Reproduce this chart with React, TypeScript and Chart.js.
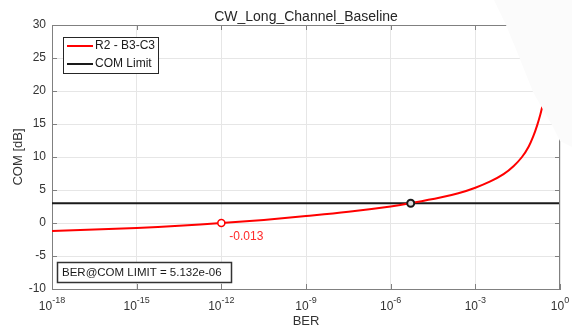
import { useEffect, useRef } from 'react';
import { Chart, registerables } from 'chart.js';

Chart.register(...registerables);

// ---- data ----
const berValues = [
  1e-18, 3.2e-17, 1e-15, 3.2e-14, 1e-12, 3.2e-11, 1e-9, 3.2e-8, 1e-6, 5.132e-6,
  5.75e-5, 2.5e-4, 1e-3, 3.4e-3, 1e-2, 2.3e-2, 4.5e-2, 7.8e-2, 0.117, 0.155,
  0.2, 0.234, 0.282,
];
const comValues = [
  -1.2, -0.98, -0.75, -0.42, -0.013, 0.47, 1.05, 1.7, 2.5, 3.0,
  3.85, 4.5, 5.35, 6.3, 7.4, 8.65, 10.0, 11.6, 13.3, 14.8,
  16.4, 17.6, 19.2,
];
const comLimitValue = 3;
const limitBer = 5.132e-6;
const markerBer = 1e-12;
const markerCom = -0.013;
const xRange = [1e-18, 1];
const xTickExponents = [-18, -15, -12, -9, -6, -3, 0];
const yTickValues = [-10, -5, 0, 5, 10, 15, 20, 25, 30];

const titleText = 'CW_Long_Channel_Baseline';
const xAxisTitle = 'BER';
const yAxisTitle = 'COM [dB]';
const seriesName = 'R2 - B3-C3';
const limitName = 'COM Limit';
const annotationText = 'BER@COM LIMIT = 5.132e-06';
const markerLabel = '-0.013';

const FONT = '"Liberation Sans", Arial, Helvetica, sans-serif';
const AXIS_COLOR = '#808080';
const TEXT_COLOR = '#333333';

const decorPlugin = {
  id: 'decor',
  afterDraw(chart: any) {
    const ctx: CanvasRenderingContext2D = chart.ctx;
    const { left, right, top, bottom } = chart.chartArea;
    const xs = chart.scales.x;
    const ys = chart.scales.y;
    ctx.save();

    // top/right border
    ctx.strokeStyle = AXIS_COLOR;
    ctx.lineWidth = 1;
    ctx.beginPath();
    ctx.moveTo(left, top + 0.5);
    ctx.lineTo(right, top + 0.5);
    ctx.moveTo(right - 0.5, top);
    ctx.lineTo(right - 0.5, bottom);
    ctx.stroke();

    // inward tick marks
    const tl = 5;
    ctx.beginPath();
    for (const e of xTickExponents) {
      const px = Math.round(xs.getPixelForValue(Math.pow(10, e))) + 0.5;
      ctx.moveTo(px, bottom);
      ctx.lineTo(px, bottom - tl);
      ctx.moveTo(px, top);
      ctx.lineTo(px, top + tl);
    }
    for (const v of yTickValues) {
      const py = Math.round(ys.getPixelForValue(v)) + 0.5;
      ctx.moveTo(left, py);
      ctx.lineTo(left + tl, py);
      ctx.moveTo(right, py);
      ctx.lineTo(right - tl, py);
    }
    ctx.stroke();

    // x tick labels with superscript exponents
    ctx.fillStyle = TEXT_COLOR;
    ctx.textBaseline = 'middle';
    ctx.textAlign = 'left';
    for (const e of xTickExponents) {
      const px = xs.getPixelForValue(Math.pow(10, e));
      const base = '10';
      const sup = String(e);
      ctx.font = `12px ${FONT}`;
      const wb = ctx.measureText(base).width;
      ctx.font = `9px ${FONT}`;
      const ws = ctx.measureText(sup).width;
      const x0 = px - (wb + ws) / 2;
      ctx.font = `12px ${FONT}`;
      ctx.fillText(base, x0, bottom + 18);
      ctx.font = `9px ${FONT}`;
      ctx.fillText(sup, x0 + wb, bottom + 12);
    }

    // title
    ctx.fillStyle = '#262626';
    ctx.textAlign = 'center';
    ctx.font = `14px ${FONT}`;
    ctx.fillText(titleText, (left + right) / 2, 17);

    // axis titles
    ctx.fillStyle = TEXT_COLOR;
    ctx.font = `13px ${FONT}`;
    ctx.fillText(xAxisTitle, (left + right) / 2, 321);
    ctx.save();
    ctx.translate(18, (top + bottom) / 2);
    ctx.rotate(-Math.PI / 2);
    ctx.fillText(yAxisTitle, 0, 0);
    ctx.restore();

    // legend
    ctx.fillStyle = '#ffffff';
    ctx.fillRect(63, 37, 96, 37);
    ctx.strokeStyle = '#262626';
    ctx.lineWidth = 1;
    ctx.strokeRect(63.5, 37.5, 95, 36);
    ctx.lineWidth = 2;
    ctx.strokeStyle = '#ff0000';
    ctx.beginPath();
    ctx.moveTo(67, 46);
    ctx.lineTo(93, 46);
    ctx.stroke();
    ctx.strokeStyle = '#1a1a1a';
    ctx.beginPath();
    ctx.moveTo(67, 64);
    ctx.lineTo(93, 64);
    ctx.stroke();
    ctx.fillStyle = '#1a1a1a';
    ctx.textAlign = 'left';
    ctx.font = `12px ${FONT}`;
    ctx.fillText(seriesName, 95, 46);
    ctx.fillText(limitName, 95, 64);

    // annotation box
    ctx.fillStyle = '#ffffff';
    ctx.fillRect(57, 262, 175, 21);
    ctx.strokeStyle = '#333333';
    ctx.lineWidth = 1.5;
    ctx.strokeRect(57.5, 262.5, 174, 20);
    ctx.fillStyle = '#1a1a1a';
    ctx.font = `11.5px ${FONT}`;
    ctx.fillText(annotationText, 62, 273);

    // marker label
    const mx = xs.getPixelForValue(markerBer);
    const my = ys.getPixelForValue(markerCom);
    ctx.fillStyle = '#ff2a2a';
    ctx.font = `12px ${FONT}`;
    ctx.fillText(markerLabel, mx + 8, my + 14);

    // white page overlay at top-right
    ctx.fillStyle = '#fbfbfb';
    ctx.beginPath();
    ctx.moveTo(494, 0);
    ctx.lineTo(506, 25);
    ctx.lineTo(520, 59);
    ctx.lineTo(533, 92);
    ctx.lineTo(545, 113);
    ctx.lineTo(552, 125);
    ctx.lineTo(560, 141);
    ctx.lineTo(572, 147);
    ctx.lineTo(572, 0);
    ctx.closePath();
    ctx.fill();

    ctx.restore();
  },
};

export default function App() {
  const ref = useRef<HTMLCanvasElement | null>(null);
  useEffect(() => {
    if (!ref.current) return;
    const curve = berValues.map((b, i) => ({ x: b, y: comValues[i] }));
    const chart = new Chart(ref.current, {
      type: 'line',
      data: {
        datasets: [
          {
            label: 'markers-limit',
            data: [{ x: limitBer, y: comLimitValue }],
            showLine: false,
            pointRadius: 3.5,
            pointBorderWidth: 2,
            pointBorderColor: '#1a1a1a',
            pointBackgroundColor: '#dddddd',
            order: 0,
          },
          {
            label: 'markers-point',
            data: [{ x: markerBer, y: markerCom }],
            showLine: false,
            pointRadius: 3.5,
            pointBorderWidth: 1.5,
            pointBorderColor: '#ff0000',
            pointBackgroundColor: '#ffffff',
            order: 0,
          },
          {
            label: seriesName,
            data: curve,
            borderColor: '#ff0000',
            borderWidth: 2,
            pointRadius: 0,
            tension: 0.4,
            order: 1,
          },
          {
            label: limitName,
            data: [
              { x: xRange[0], y: comLimitValue },
              { x: xRange[1], y: comLimitValue },
            ],
            borderColor: '#1a1a1a',
            borderWidth: 2,
            pointRadius: 0,
            order: 2,
          },
        ],
      },
      options: {
        animation: false,
        responsive: true,
        maintainAspectRatio: false,
        layout: { padding: { top: 25, right: 12, left: 0, bottom: 0 } },
        plugins: {
          legend: { display: false },
          title: { display: false },
          tooltip: { enabled: false },
        },
        scales: {
          x: {
            type: 'logarithmic',
            min: xRange[0],
            max: xRange[1],
            afterBuildTicks: (s: any) => {
              s.ticks = xTickExponents.map((e) => ({ value: Math.pow(10, e) }));
            },
            afterFit: (s: any) => {
              s.height = 40;
            },
            ticks: { display: false },
            grid: { color: '#e6e6e6', drawTicks: false, lineWidth: 1 },
            border: { display: true, color: AXIS_COLOR, width: 1 },
          },
          y: {
            type: 'linear',
            min: -10,
            max: 30,
            afterBuildTicks: (s: any) => {
              s.ticks = yTickValues.map((v) => ({ value: v }));
            },
            afterFit: (s: any) => {
              s.width = 52;
            },
            ticks: {
              color: TEXT_COLOR,
              font: { family: FONT, size: 12 },
              padding: 6,
            },
            grid: { color: '#e6e6e6', drawTicks: false, lineWidth: 1 },
            border: { display: true, color: AXIS_COLOR, width: 1 },
          },
        },
      },
      plugins: [decorPlugin],
    });
    return () => chart.destroy();
  }, []);
  return (
    <div style={{ position: 'absolute', left: 0, top: 0, width: 572, height: 329, background: '#ffffff' }}>
      <canvas ref={ref} />
    </div>
  );
}
